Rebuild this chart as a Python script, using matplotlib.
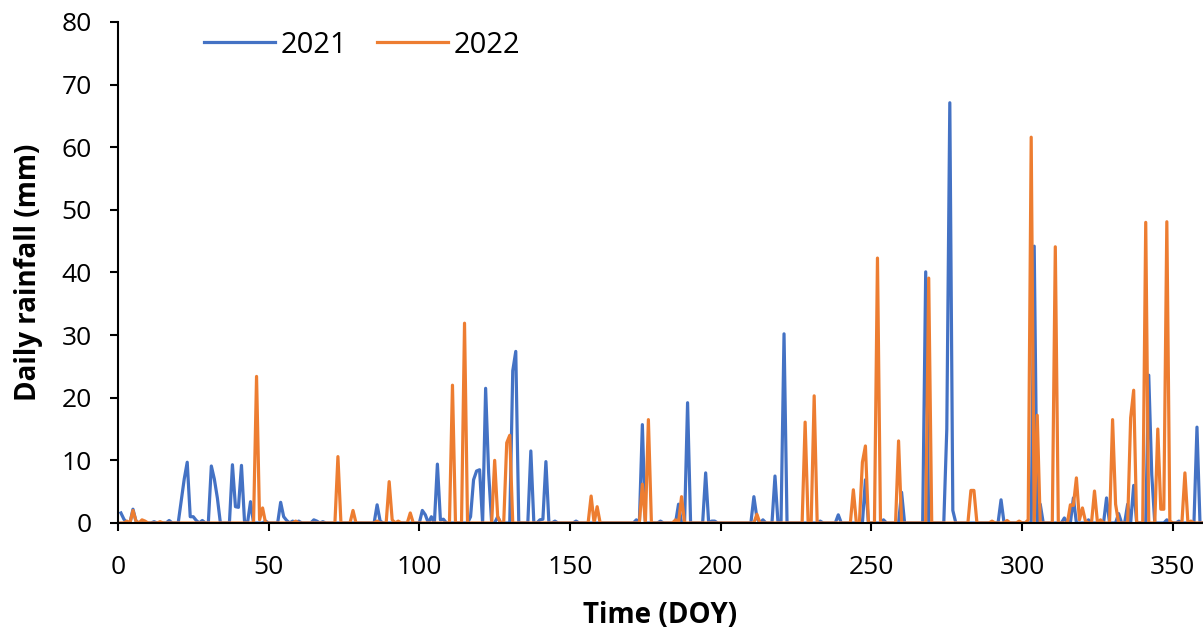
import numpy as np
import matplotlib
matplotlib.use("Agg")
import matplotlib.pyplot as plt

plt.rcParams['font.family'] = ['Open Sans', 'DejaVu Sans']

# rainy days (DOY) and daily rainfall (mm), all other days are 0
days_2021 = [1, 2, 5, 6, 8, 12, 17, 21, 22, 23, 24, 25, 26, 28, 31, 32, 33, 38, 39, 40,
             41, 42, 44, 49, 54, 55, 56, 58, 60, 65, 66, 68, 86, 87, 101, 102, 104, 106,
             107, 108, 117, 118, 119, 120, 122, 123, 126, 131, 132, 137, 140, 141, 142,
             145, 152, 172, 174, 180, 186, 189, 195, 197, 198, 211, 212, 214, 218, 221,
             233, 239, 248, 254, 260, 268, 275, 276, 277, 293, 304, 306, 314, 317, 322,
             328, 332, 335, 337, 342, 343, 348, 352, 358]
rain_2021 = [1.6, 0.6, 2.2, 0.3, 0.2, 0.2, 0.4, 3.5, 7.0, 9.7, 1.0, 1.0, 0.4, 0.4, 9.1, 7.0,
             4.0, 9.3, 2.6, 2.5, 9.2, 0.3, 3.4, 0.3, 3.3, 1.0, 0.4, 0.3, 0.3, 0.5, 0.3, 0.2,
             2.9, 0.3, 2.0, 1.3, 1.0, 9.4, 0.5, 0.6, 1.0, 6.9, 8.3, 8.5, 21.5, 8.0, 1.0,
             24.3, 27.4, 11.5, 0.5, 0.6, 9.8, 0.3, 0.3, 0.5, 15.7, 0.3, 3.0, 19.2, 8.0,
             0.3, 0.3, 4.2, 0.8, 0.5, 7.5, 30.2, 0.3, 1.3, 6.9, 0.5, 4.9, 40.1, 15.0,
             67.1, 2.0, 3.7, 44.2, 3.0, 0.8, 4.0, 0.5, 4.0, 1.5, 3.0, 6.0, 23.6, 7.7, 0.5,
             0.3, 15.3]

days_2022 = [3, 5, 6, 8, 9, 14, 46, 47, 48, 59, 73, 78, 86, 90, 91, 93, 97, 111, 115,
             125, 126, 129, 130, 157, 159, 174, 176, 185, 187, 212, 228, 231, 244, 247,
             248, 252, 259, 269, 283, 284, 290, 295, 299, 302, 303, 305, 311, 316, 317,
             318, 319, 320, 321, 324, 326, 330, 331, 336, 337, 341, 345, 346, 347, 348,
             349, 354, 356]
rain_2022 = [0.3, 2.0, 0.3, 0.5, 0.3, 0.2, 23.4, 0.5, 2.4, 0.3, 10.6, 2.0, 0.3, 6.6, 0.5,
             0.3, 1.6, 22.0, 31.9, 10.0, 1.0, 12.8, 14.0, 4.3, 2.6, 6.2, 16.5, 0.5, 4.2,
             1.4, 16.1, 20.3, 5.3, 9.7, 12.3, 42.3, 13.1, 39.1, 5.2, 5.2, 0.3, 0.4, 0.3,
             0.5, 61.6, 17.2, 44.1, 2.9, 2.8, 7.2, 0.5, 2.4, 0.3, 5.1, 0.5, 16.5, 3.0,
             16.8, 21.2, 48.0, 15.0, 2.2, 2.2, 48.1, 0.3, 8.0, 0.3]

doy = np.arange(1, 366)
y2021 = np.zeros(365)
y2021[np.array(days_2021) - 1] = rain_2021
y2022 = np.zeros(365)
y2022[np.array(days_2022) - 1] = rain_2022

fig = plt.figure(figsize=(12.03, 6.32), dpi=100)
ax = fig.add_axes([0.098, 0.1725, 0.902, 0.7927])
ax.plot(doy, y2021, color="#4472C4", lw=2.3, label="2021")
ax.plot(doy, y2022, color="#ED7D31", lw=2.3, label="2022")

ax.set_xlim(0, 360)
ax.set_ylim(0, 80)
ax.set_xticks(np.arange(0, 351, 50))
ax.set_yticks(np.arange(0, 81, 10))
ax.tick_params(labelsize=19, length=6, width=1.5)
ax.tick_params(axis="x", pad=17)
ax.tick_params(axis="y", pad=13)
for s in ["top", "right"]:
    ax.spines[s].set_visible(False)
for s in ["left", "bottom"]:
    ax.spines[s].set_linewidth(1.5)
ax.set_xlabel("Time (DOY)", fontsize=20, fontweight="bold", labelpad=15)
ax.set_ylabel("Daily rainfall (mm)", fontsize=20, fontweight="bold", labelpad=13)
ax.legend(loc="center left", bbox_to_anchor=(0.079, 0.954), ncol=2, frameon=False,
          fontsize=21, handlelength=2.45, handletextpad=0.2, columnspacing=1.0,
          borderpad=0, borderaxespad=0)

fig.savefig("out.png", dpi=100)
